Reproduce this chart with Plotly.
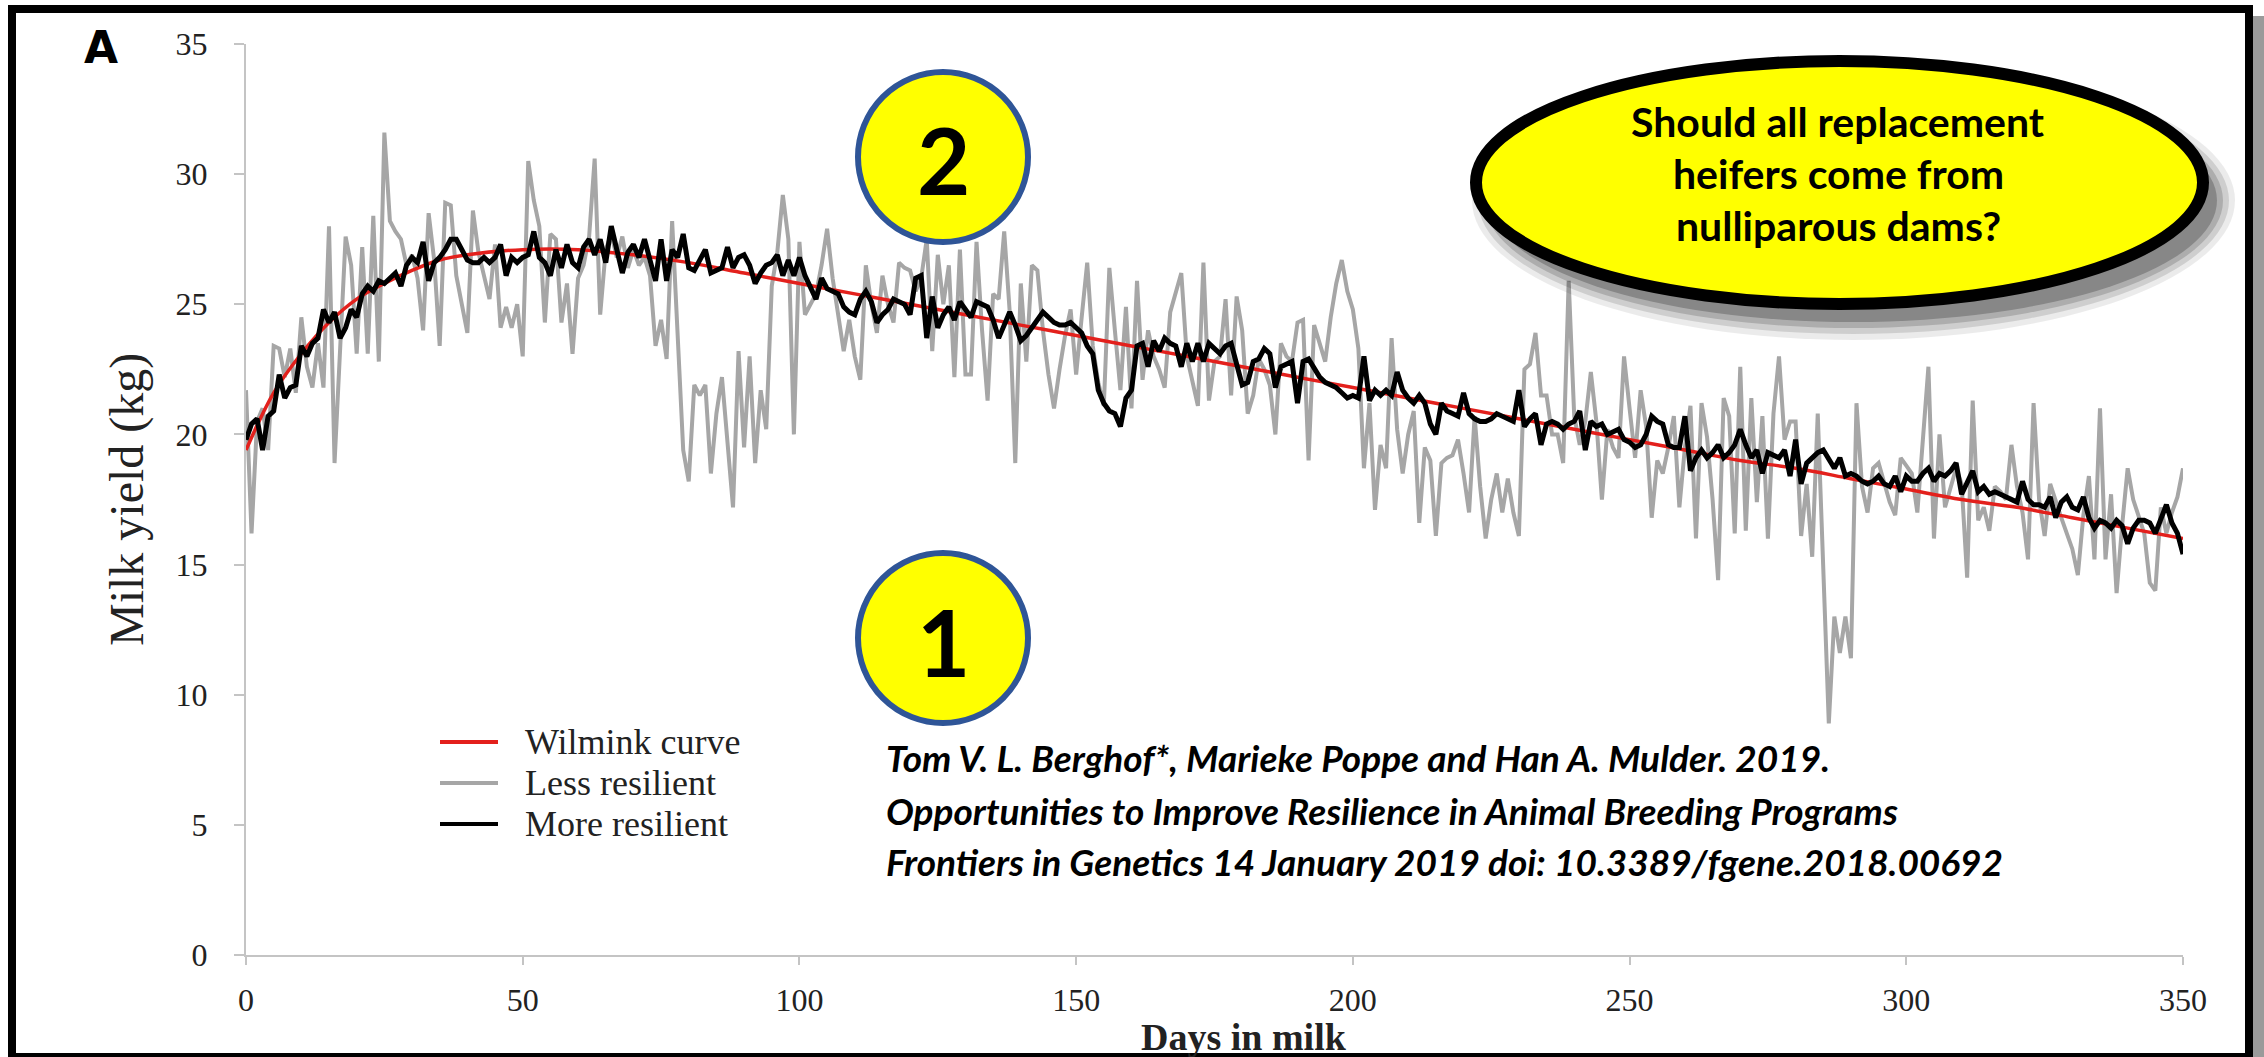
import plotly.graph_objects as go

# ---------------- data ----------------
days = list(range(0, 351))

less_resilient = [
    21.7, 16.2, 20.5, 21.0, 19.4, 23.4, 23.3, 22.2, 23.3, 21.6,
    24.5, 22.6, 21.8, 23.5, 21.8, 28.0, 18.9, 23.5, 27.6, 26.5,
    23.1, 27.2, 23.1, 28.4, 22.8, 31.6, 28.2, 27.8, 27.5, 26.5,
    26.9, 26.0, 24.0, 28.5, 26.7, 23.4, 28.9, 28.8, 26.1, 25.0,
    23.9, 28.6, 27.0, 26.1, 25.2, 27.3, 24.1, 24.9, 24.1, 25.0,
    23.0, 30.5, 29.0, 28.0, 24.3, 27.7, 27.5, 24.3, 25.8, 23.1,
    26.0, 26.5, 27.6, 30.6, 24.6, 27.1, 27.7, 26.8, 27.6, 26.4,
    27.1, 26.5, 26.8, 26.1, 23.4, 24.4, 22.9, 28.2, 23.7, 19.4,
    18.2, 21.9, 21.5, 21.9, 18.5, 20.8, 22.2, 19.5, 17.2, 23.2,
    19.5, 23.0, 18.9, 21.7, 20.2, 25.7, 27.0, 29.2, 27.5, 20.0,
    27.4, 24.6, 25.0, 25.4, 26.5, 27.9, 26.0, 24.5, 23.2, 24.4,
    23.0, 22.1, 26.5, 25.0, 23.9, 26.1, 25.0, 24.3, 26.6, 26.4,
    26.3, 25.5, 26.0, 27.5, 23.2, 26.9, 25.0, 26.5, 22.2, 27.1,
    22.3, 22.3, 27.4, 24.0, 21.3, 25.4, 25.2, 27.8, 24.7, 18.9,
    25.8, 22.8, 26.5, 26.3, 24.0, 22.3, 21.0, 22.5, 23.8, 24.8,
    22.3, 24.5, 26.6, 23.4, 22.0, 21.1, 26.4, 24.0, 21.7, 24.9,
    21.0, 25.9, 22.1, 24.0, 23.0, 22.5, 21.8, 24.7, 25.5, 26.2,
    23.0, 22.0, 21.1, 26.6, 21.3, 22.8, 23.0, 25.2, 21.5, 25.3,
    24.0, 20.8, 21.5, 22.9, 22.5, 21.9, 20.0, 23.5, 23.0, 22.8,
    24.3, 24.4, 19.0, 24.2, 23.5, 22.8, 24.5, 25.8, 26.7, 25.5,
    24.8, 23.3, 18.7, 21.2, 17.1, 19.6, 18.7, 23.7, 20.2, 18.5,
    20.0, 20.9, 16.6, 19.5, 19.0, 16.1, 18.9, 19.1, 19.2, 19.8,
    18.5, 17.0, 20.7, 18.0, 16.0, 17.5, 18.5, 17.0, 18.3, 17.0,
    16.1, 22.5, 22.7, 23.9, 21.5, 21.5, 20.0, 20.0, 18.9, 25.9,
    20.7, 19.6, 20.5, 22.4, 20.5, 17.5, 20.2, 19.5, 19.1, 23.0,
    21.0, 19.1, 21.7, 20.3, 16.8, 19.0, 18.5, 19.5, 20.7, 17.2,
    19.5, 21.1, 16.0, 21.2, 19.9, 17.5, 14.4, 21.4, 20.7, 16.2,
    22.6, 16.3, 21.4, 17.4, 20.7, 16.0, 20.8, 23.0, 19.8, 20.5,
    20.5, 16.1, 18.1, 15.3, 20.8, 14.3, 8.9, 13.0, 11.6, 13.0,
    11.4, 21.2, 18.0, 17.0, 18.7, 18.9, 18.2, 17.4, 16.9, 19.1,
    18.8, 18.5, 17.0, 20.0, 22.6, 16.0, 20.0, 17.2, 18.0, 18.7,
    18.1, 14.5, 21.3, 16.7, 17.2, 16.3, 18.0, 17.8, 17.5, 19.6,
    18.0, 17.0, 15.2, 21.2, 17.5, 16.1, 18.1, 17.4, 16.8, 16.2,
    15.6, 14.6, 16.9, 18.4, 15.2, 21.0, 15.2, 17.7, 13.9, 16.5,
    18.7, 17.5, 16.8, 16.2, 14.3, 14.0, 17.2, 16.2, 17.0, 17.6,
    18.7,
]

more_resilient = [
    19.8, 20.4, 20.6, 19.4, 20.7, 20.9, 22.3, 21.4, 21.8, 21.9,
    23.4, 23.0, 23.5, 23.7, 24.8, 24.3, 24.7, 23.7, 24.1, 24.8,
    24.5, 25.4, 25.7, 25.5, 25.9, 25.8, 26.0, 26.2, 25.7, 26.5,
    26.8, 26.6, 27.4, 25.9, 26.6, 26.8, 27.1, 27.5, 27.5, 27.1,
    26.7, 26.6, 26.6, 26.8, 26.6, 26.8, 27.3, 26.1, 26.8, 26.6,
    26.8, 26.9, 27.8, 26.8, 26.6, 26.1, 27.1, 26.4, 27.3, 26.6,
    26.4, 27.2, 27.5, 26.9, 27.5, 26.6, 28.0, 27.1, 26.2, 27.0,
    27.3, 26.8, 27.5, 26.7, 25.9, 27.5, 25.9, 27.1, 26.8, 27.7,
    26.4, 26.3, 26.7, 27.1, 26.2, 26.3, 26.4, 27.2, 26.4, 26.8,
    26.9, 26.5, 25.8, 26.2, 26.5, 26.6, 26.9, 26.1, 26.7, 26.1,
    26.8, 26.1, 25.6, 25.2, 26.0, 25.6, 25.5, 25.4, 24.9, 24.7,
    24.6, 25.2, 25.5, 25.1, 24.3, 24.6, 24.8, 25.2, 25.1, 25.0,
    24.6, 26.0, 26.1, 23.7, 25.3, 24.1, 24.6, 24.9, 24.4, 25.1,
    24.8, 24.5, 25.1, 25.0, 24.9, 24.4, 23.7, 24.2, 24.7, 24.2,
    23.6, 23.8, 24.1, 24.4, 24.7, 24.5, 24.3, 24.2, 24.2, 24.3,
    24.1, 23.9, 23.4, 23.1, 21.7, 21.2, 20.9, 20.8, 20.3, 21.4,
    21.7, 23.4, 23.5, 22.6, 23.6, 23.2, 23.7, 23.5, 23.4, 22.6,
    23.5, 22.8, 23.5, 22.8, 23.5, 23.3, 23.1, 23.4, 23.5, 22.7,
    21.9, 22.0, 22.8, 22.9, 23.3, 23.1, 21.8, 22.6, 22.7, 22.8,
    21.2, 22.8, 22.9, 22.5, 22.2, 22.0, 21.9, 21.8, 21.6, 21.4,
    21.5, 21.4, 23.0, 21.3, 21.7, 21.5, 21.7, 21.5, 22.4, 21.7,
    21.4, 21.2, 21.5, 21.2, 20.4, 20.0, 21.2, 20.9, 20.8, 20.7,
    21.6, 20.8, 20.6, 20.5, 20.5, 20.6, 20.8, 20.7, 20.6, 20.5,
    21.7, 20.3, 20.6, 20.8, 19.6, 20.4, 20.5, 20.4, 20.2, 20.4,
    20.5, 20.9, 19.4, 20.5, 20.3, 20.4, 20.0, 20.1, 20.2, 19.8,
    19.7, 19.5, 19.6, 20.0, 20.7, 20.5, 20.4, 19.6, 19.5, 19.5,
    20.7, 18.6, 19.1, 19.4, 19.1, 19.3, 19.6, 19.1, 19.3, 19.6,
    20.2, 19.6, 19.1, 19.4, 18.5, 19.3, 19.2, 19.1, 19.4, 18.4,
    19.8, 18.1, 18.9, 19.1, 19.3, 19.4, 19.0, 18.7, 19.1, 18.4,
    18.5, 18.4, 18.2, 18.1, 18.2, 18.4, 18.1, 18.0, 18.4, 17.8,
    18.4, 18.2, 18.2, 18.5, 18.7, 18.2, 18.5, 18.4, 18.6, 18.9,
    17.7, 18.1, 18.6, 17.8, 18.0, 17.7, 17.8, 17.7, 17.6, 17.5,
    17.4, 18.2, 17.5, 17.3, 17.3, 17.2, 17.6, 16.8, 17.4, 17.6,
    17.2, 17.1, 17.6, 16.8, 16.4, 16.7, 16.6, 16.4, 16.7, 16.5,
    15.8, 16.4, 16.7, 16.7, 16.6, 16.2, 16.7, 17.3, 16.6, 16.2,
    15.4,
]

wilmink_days = [0, 5, 10, 15, 20, 25, 30, 35, 40, 50, 60, 70, 80, 90, 100,
                110, 120, 130, 140, 150, 160, 170, 180, 190, 200, 210, 220,
                230, 240, 250, 260, 270, 280, 290, 300, 310, 320, 330, 340, 350]
wilmink_yield = [19.4, 21.6, 23.1, 24.3, 25.2, 25.8, 26.3, 26.7, 26.9, 27.1,
                 27.1, 26.9, 26.6, 26.2, 25.8, 25.4, 25.0, 24.6, 24.2, 23.8,
                 23.4, 23.0, 22.6, 22.2, 21.8, 21.4, 21.0, 20.6, 20.2, 19.8,
                 19.4, 19.0, 18.7, 18.3, 17.9, 17.5, 17.2, 16.8, 16.4, 16.0]

x_ticks = [0, 50, 100, 150, 200, 250, 300, 350]
y_ticks = [0, 5, 10, 15, 20, 25, 30, 35]

legend_names = ["Wilmink curve", "Less resilient", "More resilient"]
legend_colors = ["#e3201c", "#a6a6a6", "#000000"]

callout_lines = ["Should all replacement", "heifers come from", "nulliparous dams?"]
citation_lines = [
    "Tom V. L. Berghof*, Marieke Poppe and Han A. Mulder. 2019.",
    "Opportunities to Improve Resilience in Animal Breeding Programs",
    "Frontiers in Genetics 14 January 2019 doi: 10.3389/fgene.2018.00692",
]

# ---------------- layout geometry (pixels) ----------------
W, H = 2264, 1057
L, R, T, B = 246, 2183, 44, 955


def fx(p):
    return (p - L) / (R - L)


def fy(p):
    return (B - p) / (B - T)


fig = go.Figure()

fig.add_trace(go.Scatter(x=days, y=less_resilient, mode="lines", name=legend_names[1],
                         line=dict(color=legend_colors[1], width=4), showlegend=False,
                         hoverinfo="skip"))
fig.add_trace(go.Scatter(x=wilmink_days, y=wilmink_yield, mode="lines", name=legend_names[0],
                         line=dict(color=legend_colors[0], width=3.5, shape="spline"),
                         showlegend=False, hoverinfo="skip"))
fig.add_trace(go.Scatter(x=days, y=more_resilient, mode="lines", name=legend_names[2],
                         line=dict(color=legend_colors[2], width=5), showlegend=False,
                         hoverinfo="skip"))

axis_grey = "#c4c4c4"
tick_font = dict(family="Liberation Serif", size=32, color="#222222")

fig.update_xaxes(range=[0, 350], tickvals=x_ticks, showline=True, linecolor=axis_grey,
                 linewidth=2, ticks="outside", ticklen=8, tickwidth=2, tickcolor=axis_grey,
                 showgrid=False, zeroline=False, tickfont=tick_font, ticklabelstandoff=8,
                 automargin=False)
fig.update_yaxes(range=[0, 35], tickvals=y_ticks, showline=True, linecolor=axis_grey,
                 linewidth=2, ticks="outside", ticklen=10, tickwidth=2, tickcolor=axis_grey,
                 showgrid=False, zeroline=False, tickfont=tick_font, ticklabelstandoff=20,
                 automargin=False)

shapes = []
annotations = []

# legend
legend_rows = [742, 783, 824]
for name, color, row in zip(legend_names, legend_colors, legend_rows):
    shapes.append(dict(type="line", xref="paper", yref="paper", x0=fx(440), x1=fx(498),
                       y0=fy(row), y1=fy(row), line=dict(color=color, width=4), layer="above"))
    annotations.append(dict(text=name, xref="paper", yref="paper", x=fx(523), y=fy(row),
                            xanchor="left", yanchor="middle", showarrow=False,
                            font=dict(family="Liberation Serif", size=36, color="#222222")))

# callout ellipse with soft drop shadow
ex0, ex1, ey0, ey1 = 1476, 2203, 61, 304
for grow, alpha in [(18, 0.08), (12, 0.12), (6, 0.16), (0, 0.22)]:
    shapes.append(dict(type="circle", xref="paper", yref="paper",
                       x0=fx(ex0 + 14 - grow), x1=fx(ex1 + 14 + grow),
                       y0=fy(ey0 + 18 - grow), y1=fy(ey1 + 18 + grow),
                       fillcolor=f"rgba(0,0,0,{alpha})", line=dict(width=0), layer="above"))
shapes.append(dict(type="circle", xref="paper", yref="paper", x0=fx(ex0), x1=fx(ex1),
                   y0=fy(ey0), y1=fy(ey1), fillcolor="#ffff00",
                   line=dict(color="#000000", width=12), layer="above"))
for line, yy in zip(callout_lines, [121, 173, 225]):
    annotations.append(dict(text=line, xref="paper", yref="paper", x=fx(1838), y=fy(yy),
                            xanchor="center", yanchor="middle", showarrow=False,
                            font=dict(family="Lato", size=41, color="#000000", weight="bold")))

# numbered markers
for label, cy in [("2", 157), ("1", 638)]:
    shapes.append(dict(type="circle", xref="paper", yref="paper", x0=fx(943 - 85),
                       x1=fx(943 + 85), y0=fy(cy - 85), y1=fy(cy + 85), fillcolor="#ffff00",
                       line=dict(color="#2f5597", width=6), layer="above"))
    annotations.append(dict(text=label, xref="paper", yref="paper", x=fx(943), y=fy(cy + 3),
                            xanchor="center", yanchor="middle", showarrow=False,
                            font=dict(family="Lato", size=92, color="#000000", weight="bold")))

# citation
for line, yy in zip(citation_lines, [757, 810, 861]):
    annotations.append(dict(text=line, xref="paper", yref="paper", x=fx(884), y=fy(yy),
                            xanchor="left", yanchor="middle", showarrow=False,
                            font=dict(family="Lato", size=37, color="#000000",
                                      weight="bold", style="italic")))

# panel letter and axis titles
annotations.append(dict(text="A", xref="paper", yref="paper", x=fx(101), y=fy(47),
                        xanchor="center", yanchor="middle", showarrow=False,
                        font=dict(family="DejaVu Sans", size=44, color="#000000",
                                  weight="bold")))
annotations.append(dict(text="Milk yield (kg)", xref="paper", yref="paper", x=fx(127),
                        y=fy(500), xanchor="center", yanchor="middle", textangle=-90,
                        showarrow=False,
                        font=dict(family="Liberation Serif", size=48, color="#222222")))
annotations.append(dict(text="Days in milk", xref="paper", yref="paper", x=fx(1244),
                        y=fy(1037), xanchor="center", yanchor="middle", showarrow=False,
                        font=dict(family="Liberation Serif", size=38, color="#222222",
                                  weight="bold")))

# outer frame with shadow strip on the right
shapes.append(dict(type="rect", xref="paper", yref="paper", x0=fx(2253), x1=fx(2266),
                   y0=fy(16), y1=fy(1060), fillcolor="#9a9a9a", line=dict(width=0),
                   layer="above"))
shapes.append(dict(type="rect", xref="paper", yref="paper", x0=fx(12), x1=fx(2249),
                   y0=fy(9), y1=fy(1057), fillcolor="rgba(0,0,0,0)",
                   line=dict(color="#000000", width=8), layer="above"))

fig.update_layout(
    width=W, height=H, autosize=False,
    margin=dict(l=L, r=W - R, t=T, b=H - B, pad=0),
    paper_bgcolor="#ffffff", plot_bgcolor="#ffffff",
    shapes=shapes, annotations=annotations, showlegend=False,
)

fig.write_html("out.html")
